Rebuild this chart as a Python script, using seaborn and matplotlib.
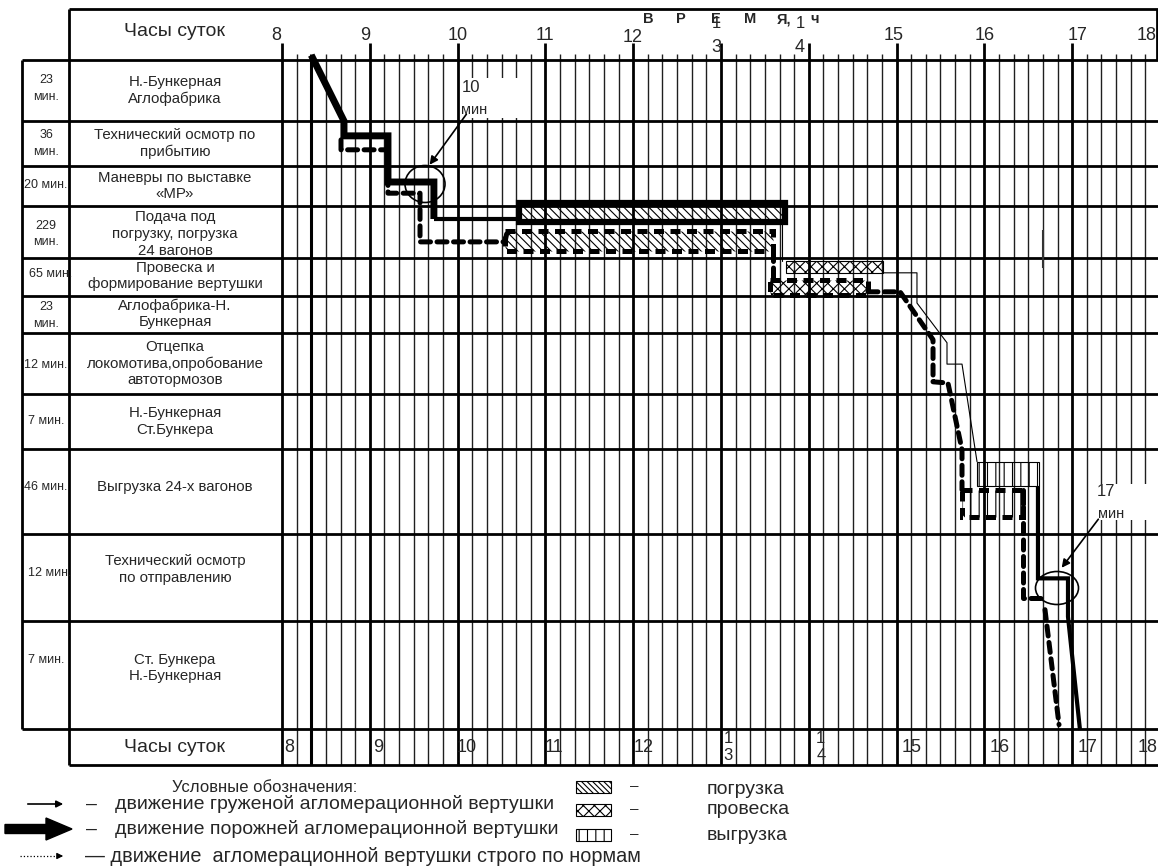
import numpy as np
import pandas as pd
import seaborn as sns
import matplotlib.pyplot as plt
from matplotlib.patches import Rectangle, Ellipse, FancyArrow

# ---- table rows (top to bottom) ----
row_minutes = ["23\nмин.", "36\nмин.", "20 мин.", "229\nмин.", "65 мин.", "23\nмин.",
               "12 мин.", "7 мин.", "46 мин.", "12 мин.", "7 мин."]
row_names = ["Н.-Бункерная\nАглофабрика",
             "Технический осмотр по\nприбытию",
             "Маневры по выставке\n«МР»",
             "Подача под\nпогрузку, погрузка\n24 вагонов",
             "Провеска и\nформирование вертушки",
             "Аглофабрика-Н.\nБункерная",
             "Отцепка\nлокомотива,опробование\nавтотормозов",
             "Н.-Бункерная\nСт.Бункера",
             "Выгрузка 24-х вагонов",
             "Технический осмотр\nпо отправлению",
             "Ст. Бункера\nН.-Бункерная"]

hours = list(range(8, 19))
top_hour_labels = ["8", "9", "10", "11", "12", "3", "4", "15", "16", "17", "18"]
bottom_hour_labels = ["8", "9", "10", "11", "12", "1\n3", "1\n4", "15", "16", "17", "18"]

# ---- train paths: time (h) and row coordinate (row index + fraction) ----
empty_t = [8.333, 8.706, 8.706, 9.207, 9.207, 9.73, 9.73]
empty_r = [-0.08, 1.0, 1.33, 1.33, 2.4, 2.4, 3.25]
link_t = [9.73, 10.70]
link_r = [3.25, 3.25]
thin_t1 = [13.70, 13.70]
thin_r1 = [3.31, 4.08]
thin_t2 = [14.845, 15.232, 15.232, 15.574, 15.574, 15.745, 15.916]
thin_r2 = [4.39, 4.39, 5.19, 6.16, 6.51, 6.51, 8.15]
back_t = [16.61, 16.61, 16.952, 16.952, 17.089]
back_r = [8.44, 9.51, 9.51, 9.95, 11.01]

norm_t1 = [8.672, 8.672, 9.207, 9.207, 9.572, 9.572, 10.54, 10.563]
norm_r1 = [1.42, 1.64, 1.64, 2.68, 2.68, 3.69, 3.69, 3.5]
norm_t2 = [13.592, 13.592]
norm_r2 = [3.87, 4.58]
norm_t3 = [14.674, 15.039, 15.415, 15.415, 15.585, 15.745, 15.745]
norm_r3 = [4.89, 4.89, 6.11, 6.80, 6.82, 8.01, 8.48]
norm_t4 = [16.44, 16.44, 16.656]
norm_r4 = [8.48, 9.74, 9.74]
norm_t5 = [16.69, 16.85]
norm_r5 = [9.87, 10.96]

# operations: start, end, row top, row bottom
load_actual = [10.70, 13.73, 2.925, 3.31]
load_norm = [10.54, 13.592, 3.48, 3.87]
weigh_actual = [13.74, 14.845, 4.08, 4.39]
weigh_norm = [13.558, 14.674, 4.58, 4.97]
unload_actual = [15.916, 16.622, 8.15, 8.44]
unload_norm = [15.745, 16.44, 8.48, 8.80]

# ---- layout (pixels) ----
W, H = 1158, 868
bounds = np.array([60, 121, 166, 206, 258, 296, 333, 394, 449, 534, 621, 729])
X8, HOUR_PX = 282, 87.8


def row_px(r):
    r = np.asarray(r, float)
    k = np.clip(np.floor(r).astype(int), 0, len(bounds) - 2)
    return bounds[k] + (r - k) * (bounds[k + 1] - bounds[k])


def hr(px):
    return 8 + (px - X8) / HOUR_PX


def hour_px(h):
    return X8 + (h - 8) * HOUR_PX


sns.set_theme(style="white")
plt.rcParams["font.family"] = ["Liberation Sans", "DejaVu Sans"]
plt.rcParams["hatch.linewidth"] = 0.8

fig = plt.figure(figsize=(W / 100, H / 100), dpi=100)
ax = fig.add_axes([0, 0, 1, 1])
lay = fig.add_axes([0, 0, 1, 1])
for a in (ax, lay):
    a.axis("off")
lay.patch.set_visible(False)

# ---- time grid ----
ticks = np.round(np.arange(8, 18.001, 1 / 6), 4)
for t in ticks:
    if abs(t - round(t)) < 1e-3:
        ax.vlines(t, 43, 765, color="black", lw=2.0, zorder=1)
    elif abs(t - 8.3333) < 1e-3:
        ax.vlines(t, 54, 765, color="black", lw=2.2, zorder=1)
    else:
        ax.vlines(t, 54, 765, color="0.12", lw=1.0, zorder=1)

# ---- table frame ----
lay.hlines(bounds, 22, W, color="black", lw=2.0)
lay.hlines([9, 765], 69, W, color="black", lw=2.0)
lay.vlines(69, 9, 765, color="black", lw=2.0)
lay.vlines(22, 60, 729, color="black", lw=2.0)
lay.vlines(W - 1, 9, 60, color="black", lw=2.0)
lay.vlines(1043, 230, 268, color="0.2", lw=1.5)

name_dy = [0, 0, 0, 2, -1, -1, 0, 0, -5, -8, -7]
min_dy = [-2, 0, -1, 2, -3, 1, 1, 0, -5, -5, -15]
min_x = [46, 46, 46, 46, 51, 46, 46, 46, 46, 50, 46]
for i in range(len(row_names)):
    yc = (bounds[i] + bounds[i + 1]) / 2
    lay.text(175, yc + name_dy[i], row_names[i], ha="center", va="center",
             fontsize=10.8, linespacing=1.3 if i == 3 else 1.2)
    lay.text(min_x[i], yc + min_dy[i], row_minutes[i], ha="center", va="center",
             fontsize=9, linespacing=1.45)

lay.text(175, 31, "Часы суток", ha="center", va="center", fontsize=14)
lay.text(175, 747, "Часы суток", ha="center", va="center", fontsize=14)

# hour labels
top_dy = [36, 36, 36, 36, 38, 47, 47, 36, 36, 36, 36]
top_dx = [-6, -5, 0, 0, -1, -5, -9, -3, 0, 5, -13]
for h, lab, y, dx in zip(hours, top_hour_labels, top_dy, top_dx):
    lay.text(hour_px(h) + dx, y, lab, ha="center", va="center", fontsize=13)
for h, dx in zip([13, 14], [-5, -8]):
    lay.text(hour_px(h) + dx, 23, "1", ha="center", va="center", fontsize=12)
for letter, px in zip(["В", "Р", "Е", "М", "Я,", "ч"], [648, 681, 716, 750, 784, 815]):
    lay.text(px, 19, letter, ha="center", va="center", fontsize=10.5, fontweight="bold")

bot_dx = [7, 8, 9, 9, 10, 7, 12, 15, 15, 15, -12]
for h, lab, dx in zip(hours, bottom_hour_labels, bot_dx):
    lay.text(hour_px(h) + dx, 747, lab, ha="center", va="center",
             fontsize=13 if "\n" not in lab else 12, linespacing=1.1)


# ---- train movement lines ----
def path(t, r, **kw):
    df = pd.DataFrame({"t": t, "y": row_px(r)})
    sns.lineplot(data=df, x="t", y="y", sort=False, estimator=None, ax=ax,
                 color="black", zorder=5, **kw)


dash = (0, (2.0, 1.3))
path(empty_t, empty_r, lw=5, solid_joinstyle="miter", solid_capstyle="butt")
path(link_t, link_r, lw=3, solid_capstyle="butt")
path(thin_t1, thin_r1, lw=0.8)
path(thin_t2, thin_r2, lw=0.8)
path(back_t, back_r, lw=3, solid_joinstyle="miter", solid_capstyle="butt")
for t, r in [(norm_t1, norm_r1), (norm_t2, norm_r2), (norm_t3, norm_r3),
             (norm_t4, norm_r4), (norm_t5, norm_r5)]:
    path(t, r, lw=3.6, linestyle=dash, dash_capstyle="round")


def op_box(spec, hatch, lw, ls="-"):
    t0, t1, r0, r1 = spec
    y0, y1 = row_px([r0, r1])
    ax.add_patch(Rectangle((t0, y0), t1 - t0, y1 - y0, fill=False, hatch=hatch,
                           edgecolor="black", lw=lw, linestyle=ls, zorder=6,
                           joinstyle="miter"))


load_hatch, weigh_hatch, unload_hatch = "\\" * 4, "xxx", "||"
op_box(load_actual, load_hatch, 4.5)
op_box(load_norm, load_hatch, 3.6, dash)
op_box(weigh_actual, weigh_hatch, 0.8)
op_box(weigh_norm, weigh_hatch, 3.6, dash)
op_box(unload_actual, unload_hatch, 0.8)
op_box(unload_norm, unload_hatch, 3.6, dash)

# ---- circled delays with notes ----
ax.add_patch(Ellipse((hr(425), 184), 40 / HOUR_PX, 37, fill=False, lw=1.2,
                     edgecolor="black", zorder=7))
ax.add_patch(Ellipse((hr(1057), 588), 43 / HOUR_PX, 33, fill=False, lw=1.2,
                     edgecolor="black", zorder=7))
for x0, x1, y0, y1 in [(463, 518, 78, 118), (1098, 1150, 484, 520)]:
    ax.add_patch(Rectangle((hr(x0), y0), (x1 - x0) / HOUR_PX, y1 - y0,
                           facecolor="white", edgecolor="none", zorder=3))
ax.text(hr(471), 88, "10", ha="center", va="center", fontsize=12, zorder=8)
ax.text(hr(474), 110, "мин", ha="center", va="center", fontsize=10.5, zorder=8)
ax.text(hr(1106), 492, "17", ha="center", va="center", fontsize=12, zorder=8)
ax.text(hr(1111), 514, "мин", ha="center", va="center", fontsize=10.5, zorder=8)
arrow_kw = dict(arrowstyle="-|>", lw=1.2, color="black", mutation_scale=12)
ax.annotate("", xy=(hr(428), 167), xytext=(hr(468), 112), arrowprops=arrow_kw, zorder=8)
ax.annotate("", xy=(hr(1060), 570), xytext=(hr(1100), 517), arrowprops=arrow_kw, zorder=8)

# ---- legend ----
lay.text(265, 788, "Условные обозначения:", ha="center", va="center", fontsize=12)
lay.annotate("", xy=(66, 804), xytext=(25, 804),
             arrowprops=dict(arrowstyle="-|>", lw=1.2, color="black", mutation_scale=10))
lay.add_patch(FancyArrow(5, 829, 67, 0, width=9, head_width=22, head_length=26,
                         length_includes_head=True, color="black"))
lay.plot([20, 58], [856, 856], color="black", lw=0.9, ls=":")
lay.annotate("", xy=(66, 856), xytext=(56, 856),
             arrowprops=dict(arrowstyle="-|>", lw=0.9, color="black", mutation_scale=9))
lay.text(92, 804, "–", ha="center", va="center", fontsize=14)
lay.text(92, 829, "–", ha="center", va="center", fontsize=14)
lay.text(115, 804, "движение груженой агломерационной вертушки", va="center", fontsize=14)
lay.text(115, 829, "движение порожней агломерационной вертушки", va="center", fontsize=14)
lay.text(85, 856, "— движение  агломерационной вертушки строго по нормам", va="center",
         fontsize=14.3)

sw_hatch = ["\\" * 6, "xxx", "||"]
sw_y = [781, 804, 829]
sw_text = ["погрузка", "провеска", "выгрузка"]
sw_ty = [789, 809, 836]
for hch, y, txt, ty in zip(sw_hatch, sw_y, sw_text, sw_ty):
    lay.add_patch(Rectangle((576, y), 35, 12, fill=False, hatch=hch,
                            edgecolor="black", lw=0.8))
    lay.text(634, y + 5, "–", ha="center", va="center", fontsize=11)
    lay.text(707, ty, txt, va="center", fontsize=14)

ax.set_xlim(hr(0), hr(W))
ax.set_ylim(H, 0)
lay.set_xlim(0, W)
lay.set_ylim(H, 0)

fig.savefig("out.png", dpi=100, facecolor="white")
